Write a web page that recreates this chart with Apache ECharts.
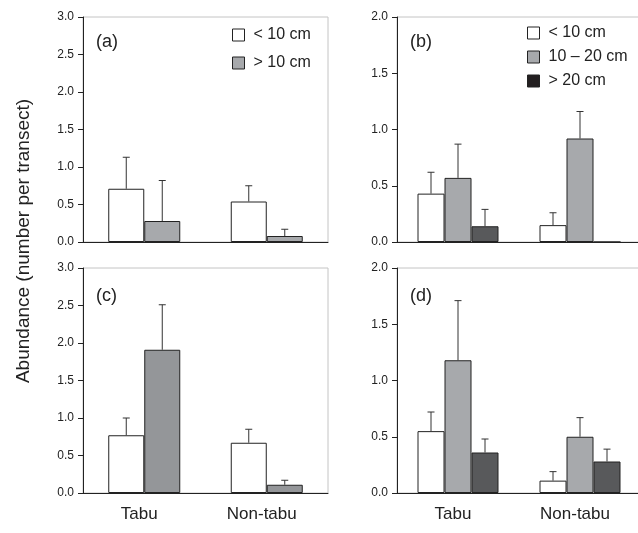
<!DOCTYPE html>
<html>
<head>
<meta charset="utf-8">
<script src="https://cdn.jsdelivr.net/npm/echarts@6/dist/echarts.min.js"></script>
<style>html,body{margin:0;padding:0;background:#fff}#c{width:638px;height:533px}</style>
</head>
<body>
<div id="c"></div>
<script>
// ---- Data ----
const categories = ['Tabu', 'Non-tabu'];
const twoClassNames = ['< 10 cm', '> 10 cm'];
const threeClassNames = ['< 10 cm', '10 \u2013 20 cm', '> 20 cm'];
const axisTicksA = [0, 0.5, 1.0, 1.5, 2.0, 2.5, 3.0];
const axisTicksB = [0, 0.5, 1.0, 1.5, 2.0];

// panel (a)
const aSmall = [0.71, 0.54];
const aSmallErr = [0.42, 0.21];
const aLarge = [0.28, 0.08];
const aLargeErr = [0.54, 0.09];
// panel (b)
const bSmall = [0.43, 0.15];
const bSmallErr = [0.19, 0.11];
const bMid = [0.57, 0.92];
const bMidErr = [0.30, 0.24];
const bBig = [0.14, 0.0];
const bBigErr = [0.15, 0.0];
// panel (c)
const cSmall = [0.77, 0.67];
const cSmallErr = [0.23, 0.18];
const cLarge = [1.91, 0.11];
const cLargeErr = [0.60, 0.06];
// panel (d)
const dSmall = [0.55, 0.11];
const dSmallErr = [0.17, 0.08];
const dMid = [1.18, 0.50];
const dMidErr = [0.53, 0.17];
const dBig = [0.36, 0.28];
const dBigErr = [0.12, 0.11];

// ---- Styles ----
const FONT = 'Liberation Sans, Arial, Helvetica, sans-serif';
const WHITE = '#ffffff', GREY = '#a7a9ac', GREY_C = '#949699', DARK = '#58595b', BLACK = '#231f20';
const EDGE = '#222222';

const grids = [
  {left: 83, top: 17, width: 245, height: 225},
  {left: 397, top: 17, width: 244, height: 225},
  {left: 83, top: 268, width: 245, height: 225},
  {left: 397, top: 268, width: 244, height: 225}
];
grids.forEach(g => { g.show = true; g.borderColor = '#c4c4c4'; g.borderWidth = 1; g.backgroundColor = 'transparent'; g.outerBoundsMode = 'none'; g.containLabel = false; });

function xAxis(gi, showLabels) {
  return {
    type: 'category', gridIndex: gi, data: categories,
    axisLine: {lineStyle: {color: EDGE, width: 1}},
    axisTick: {show: false},
    axisLabel: {show: showLabels, fontSize: 17, color: '#222', fontFamily: FONT, margin: 13, padding: [0, 10, 0, 0]}
  };
}
function yAxis(gi, ticks) {
  const max = ticks[ticks.length - 1];
  return {
    type: 'value', gridIndex: gi, min: 0, max: max, interval: 0.5,
    axisLine: {show: true, lineStyle: {color: EDGE, width: 1}},
    axisTick: {show: true, length: 5, lineStyle: {color: EDGE}},
    splitLine: {show: false},
    axisLabel: {fontSize: 12, color: '#222', fontFamily: FONT, margin: 9,
      formatter: v => Number(v).toFixed(1)}
  };
}

function barSeries(name, gi, data, color, width) {
  return {
    type: 'bar', name: name, xAxisIndex: gi, yAxisIndex: gi, data: data,
    barWidth: width, barGap: '0%',
    itemStyle: {color: color, borderColor: EDGE, borderWidth: 1},
    emphasis: {disabled: true}, z: 2
  };
}
function errSeries(gi, vals, errs, offset) {
  return {
    type: 'custom', xAxisIndex: gi, yAxisIndex: gi, z: 3, silent: true,
    data: vals.map((v, i) => [i, v, errs[i]]),
    renderItem: function (params, api) {
      const e = api.value(2);
      if (!(e > 0)) return null;
      const v = api.value(1);
      const p0 = api.coord([api.value(0), v]);
      const p1 = api.coord([api.value(0), v + e]);
      const x = p0[0] + offset;
      return {
        type: 'group',
        children: [
          {type: 'line', shape: {x1: x, y1: p0[1], x2: x, y2: p1[1]}, style: {stroke: '#333', lineWidth: 1}},
          {type: 'line', shape: {x1: x - 3.5, y1: p1[1], x2: x + 3.5, y2: p1[1]}, style: {stroke: '#333', lineWidth: 1}}
        ]
      };
    }
  };
}

const series = [
  barSeries(twoClassNames[0], 0, aSmall, WHITE, 36),
  barSeries(twoClassNames[1], 0, aLarge, GREY, 36),
  errSeries(0, aSmall, aSmallErr, -18),
  errSeries(0, aLarge, aLargeErr, 18),

  barSeries(threeClassNames[0], 1, bSmall, WHITE, 27),
  barSeries(threeClassNames[1], 1, bMid, GREY, 27),
  barSeries(threeClassNames[2], 1, bBig, DARK, 27),
  errSeries(1, bSmall, bSmallErr, -27),
  errSeries(1, bMid, bMidErr, 0),
  errSeries(1, bBig, bBigErr, 27),

  barSeries(twoClassNames[0], 2, cSmall, WHITE, 36),
  barSeries(twoClassNames[1], 2, cLarge, GREY_C, 36),
  errSeries(2, cSmall, cSmallErr, -18),
  errSeries(2, cLarge, cLargeErr, 18),

  barSeries(threeClassNames[0], 3, dSmall, WHITE, 27),
  barSeries(threeClassNames[1], 3, dMid, GREY, 27),
  barSeries(threeClassNames[2], 3, dBig, DARK, 27),
  errSeries(3, dSmall, dSmallErr, -27),
  errSeries(3, dMid, dMidErr, 0),
  errSeries(3, dBig, dBigErr, 27)
];

const panelTitle = (text, left, top) => ({
  text: text, left: left, top: top, padding: 0,
  textStyle: {fontSize: 18, fontWeight: 'normal', color: '#222', fontFamily: FONT}
});

const legendBase = {
  orient: 'vertical', icon: 'rect', itemWidth: 12, itemHeight: 12,
  selectedMode: false, padding: 0,
  textStyle: {fontSize: 16, color: '#222', fontFamily: FONT, padding: [0, 0, 0, 4]},
  itemStyle: {borderColor: EDGE, borderWidth: 1}
};

const option = {
  animation: false,
  backgroundColor: '#ffffff',
  title: [
    panelTitle('(a)', 96, 33),
    panelTitle('(b)', 410, 33),
    panelTitle('(c)', 96, 287),
    panelTitle('(d)', 410, 287)
  ],
  legend: [
    Object.assign({}, legendBase, {left: 232, top: 27, itemGap: 12,
      data: [{name: twoClassNames[0]}, {name: twoClassNames[1], itemStyle: {color: GREY}}]}),
    Object.assign({}, legendBase, {left: 527, top: 25, itemGap: 8,
      data: [{name: threeClassNames[0]}, {name: threeClassNames[1]}, {name: threeClassNames[2], itemStyle: {color: BLACK}}]})
  ],
  grid: grids,
  xAxis: [xAxis(0, false), xAxis(1, false), xAxis(2, true), xAxis(3, true)],
  yAxis: [yAxis(0, axisTicksA), yAxis(1, axisTicksB), yAxis(2, axisTicksA), yAxis(3, axisTicksB)],
  series: series,
  graphic: [{
    type: 'text', x: 24, y: 241, rotation: Math.PI / 2,
    style: {text: 'Abundance (number per transect)', fontSize: 19, fill: '#222', fontFamily: FONT,
      align: 'center', verticalAlign: 'middle'}
  }]
};

const chart = echarts.init(document.getElementById('c'), null, {renderer: 'canvas'});
chart.setOption(option);
</script>
</body>
</html>
